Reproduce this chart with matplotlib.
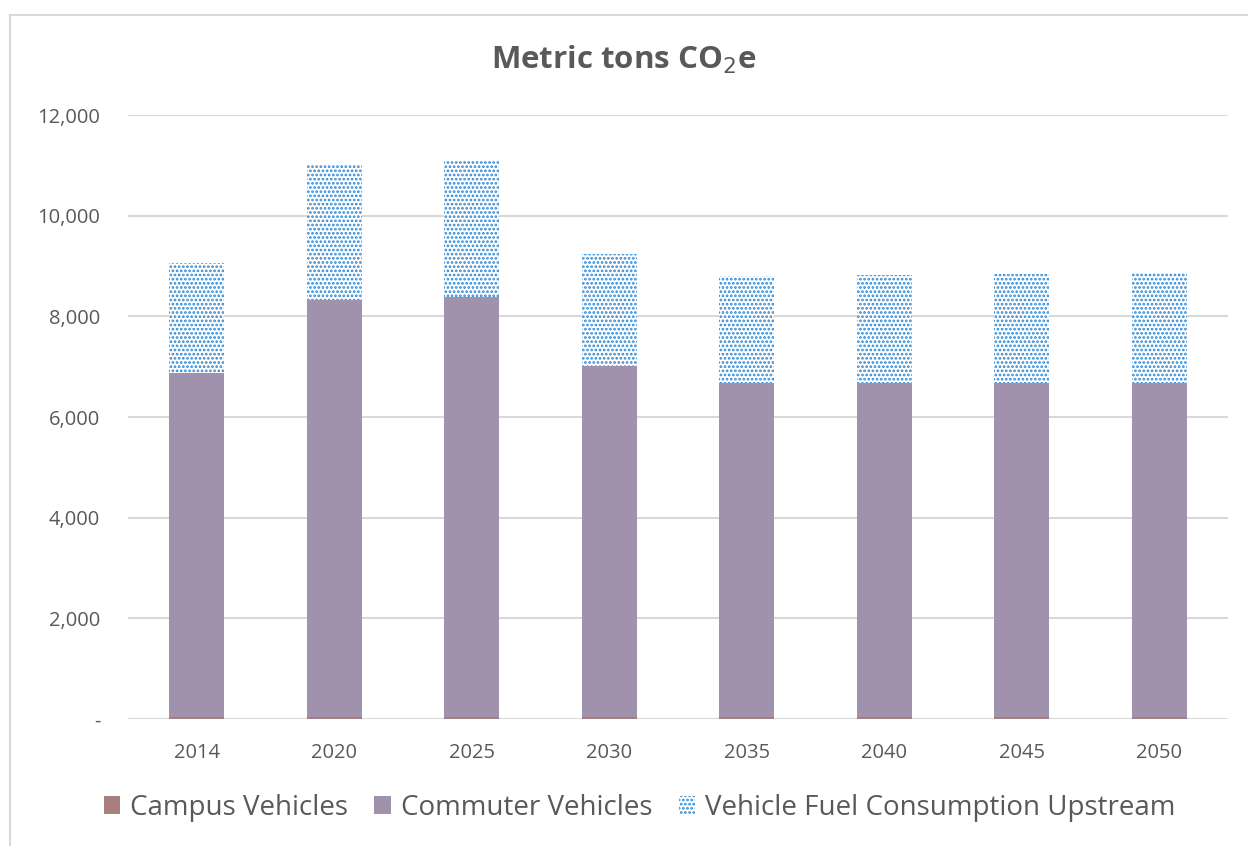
import matplotlib
matplotlib.use("Agg")
import matplotlib.pyplot as plt
from matplotlib.patches import Rectangle
from matplotlib.lines import Line2D
from matplotlib.ticker import FuncFormatter

years = ["2014", "2020", "2025", "2030", "2035", "2040", "2045", "2050"]
campus = [30, 30, 30, 30, 30, 30, 30, 30]
commuter = [6840, 8296, 8361, 6984, 6640, 6640, 6653, 6653]
upstream = [2185, 2688, 2703, 2226, 2132, 2152, 2159, 2173]
series_names = ["Campus Vehicles", "Commuter Vehicles", "Vehicle Fuel Consumption Upstream"]

plt.rcParams['font.family'] = ['Open Sans', 'DejaVu Sans']
plt.rcParams['hatch.linewidth'] = 1.3
text_color = "#595959"
c_campus = "#A67F7E"
c_commuter = "#A091AC"
c_hatch = "#2E88D4"

fig = plt.figure(figsize=(12.48, 8.46), dpi=100)
ax = fig.add_axes([128/1248, 1-719/846, 1100/1248, (719-115)/846])

x = list(range(len(years)))
w = 0.4
ax.bar(x, campus, width=w, color=c_campus, linewidth=0, zorder=3)
ax.bar(x, commuter, width=w, bottom=campus, color=c_commuter, linewidth=0, zorder=3)
bottom2 = [a + b for a, b in zip(campus, commuter)]
ax.bar(x, upstream, width=w, bottom=bottom2, facecolor="white", edgecolor=c_hatch,
       hatch="....", linewidth=0, zorder=3)

ax.set_xlim(-0.5, len(years) - 0.5)
ax.set_ylim(0, 12000)
ax.set_yticks(range(0, 12001, 2000))
ax.yaxis.set_major_formatter(FuncFormatter(lambda v, p: "-" if v == 0 else f"{int(v):,}"))
ax.set_xticks(x)
ax.set_xticklabels(years)
ax.grid(axis="y", color="#D9D9D9", linewidth=1.5, zorder=0)
for s in ax.spines.values():
    s.set_visible(False)
ax.tick_params(axis="both", length=0, labelsize=14.5, labelcolor=text_color)
ax.tick_params(axis="y", pad=20)
ax.tick_params(axis="x", pad=17)

fig.text(0.5, 1-60/846, "Metric tons CO$_2$e", ha="center", va="center",
         fontsize=22.5, fontweight="bold", color=text_color)

handles = [Rectangle((0, 0), 1, 1, facecolor=c_campus, linewidth=0),
           Rectangle((0, 0), 1, 1, facecolor=c_commuter, linewidth=0),
           Rectangle((0, 0), 1, 1, facecolor="white", edgecolor=c_hatch, hatch="....", linewidth=0)]
leg = fig.legend(handles, series_names, loc="center", bbox_to_anchor=(639.5/1248, 1-808/846),
                 ncol=3, frameon=False, fontsize=20, handlelength=0.6, handleheight=0.6,
                 handletextpad=0.35, columnspacing=0.95)
for t in leg.get_texts():
    t.set_color(text_color)

fig.add_artist(Line2D([10/1248, 10/1248], [0, 1-15/846], color="#D9D9D9", linewidth=1.5))
fig.add_artist(Line2D([10/1248, 1], [1-15/846, 1-15/846], color="#D9D9D9", linewidth=1.5))

fig.savefig("out.png", dpi=100)
